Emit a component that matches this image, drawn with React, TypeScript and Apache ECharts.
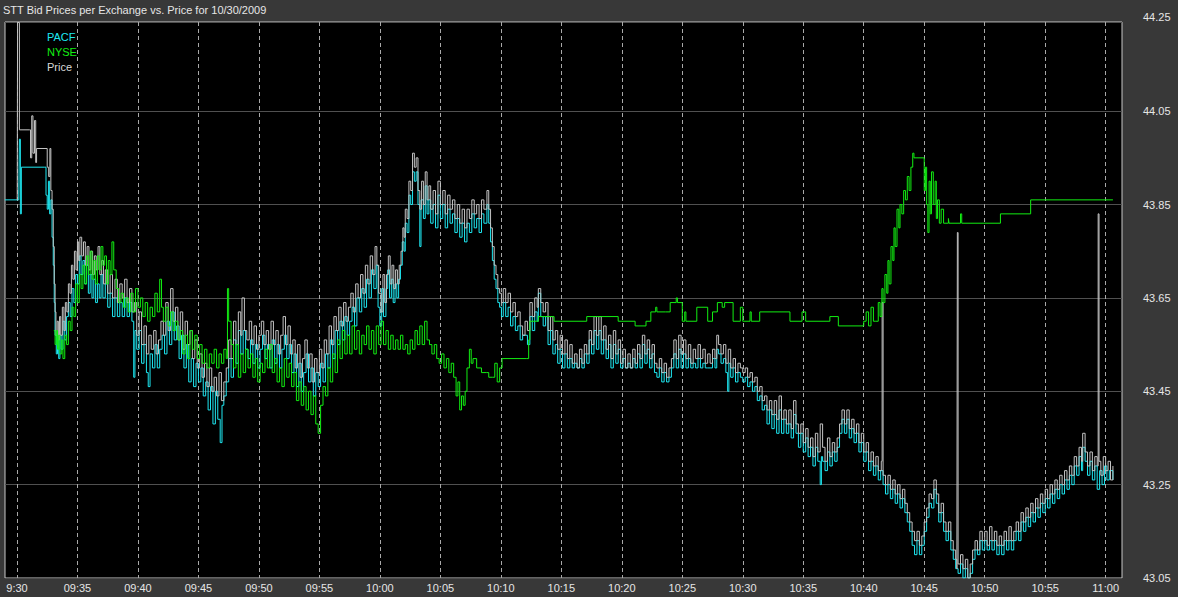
import React, { useEffect, useRef } from "react";
import * as echarts from "echarts";

// minutes after 09:30, bid / trade price
const PACF: [number, number][] = [
[-1.0,43.86],[0.15,43.86],[0.2,43.99],[0.28,43.83],[0.36,43.93],[2.3,43.93],[2.4,43.87],[2.5,43.84],[2.6,43.9],[2.7,43.83],[2.8,43.86],[2.9,43.78],[3.0,43.72],[3.08,43.64],[3.15,43.57],[3.25,43.53],[3.35,43.56],[3.45,43.52],[3.55,43.57],[3.65,43.54],[3.8,43.6],[3.95,43.56],[4.1,43.61],[4.25,43.64],[4.4,43.61],[4.55,43.67],[4.7,43.64],[4.85,43.7],[5.0,43.68],[5.15,43.74],[5.3,43.7],[5.45,43.73],[5.6,43.68],[5.75,43.72],[5.9,43.66],[6.05,43.7],[6.2,43.65],[6.35,43.69],[6.5,43.64],[6.65,43.68],[6.8,43.65],[6.95,43.7],[7.1,43.65],[7.3,43.68],[7.5,43.63],[7.7,43.66],[7.9,43.61],[8.1,43.65],[8.3,43.61],[8.5,43.64],[8.7,43.61],[8.9,43.65],[9.1,43.61],[9.3,43.64],[9.5,43.6],[9.65,43.48],[9.75,43.58],[9.9,43.54],[10.1,43.58],[10.3,43.51],[10.5,43.55],[10.7,43.49],[10.85,43.46],[11.0,43.53],[11.2,43.5],[11.4,43.55],[11.6,43.5],[11.8,43.54],[12.0,43.57],[12.2,43.53],[12.4,43.6],[12.6,43.55],[12.8,43.62],[13.0,43.56],[13.2,43.59],[13.4,43.52],[13.6,43.57],[13.8,43.5],[14.0,43.55],[14.2,43.47],[14.4,43.52],[14.6,43.46],[14.8,43.51],[15.0,43.47],[15.2,43.5],[15.4,43.44],[15.6,43.47],[15.8,43.41],[16.0,43.46],[16.2,43.38],[16.4,43.45],[16.6,43.39],[16.8,43.34],[16.95,43.42],[17.1,43.44],[17.3,43.47],[17.5,43.52],[17.7,43.48],[17.9,43.56],[18.1,43.51],[18.3,43.58],[18.5,43.53],[18.7,43.58],[18.9,43.54],[19.1,43.52],[19.3,43.56],[19.5,43.51],[19.7,43.55],[19.9,43.5],[20.1,43.54],[20.3,43.57],[20.5,43.52],[20.7,43.55],[20.9,43.5],[21.1,43.56],[21.3,43.51],[21.5,43.55],[21.7,43.5],[21.9,43.54],[22.1,43.57],[22.3,43.52],[22.5,43.55],[22.7,43.49],[22.9,43.53],[23.1,43.46],[23.3,43.51],[23.5,43.45],[23.7,43.49],[23.9,43.53],[24.1,43.47],[24.3,43.5],[24.5,43.44],[24.7,43.49],[24.9,43.46],[25.1,43.51],[25.3,43.47],[25.5,43.53],[25.7,43.5],[25.9,43.56],[26.1,43.52],[26.3,43.58],[26.5,43.55],[26.7,43.6],[26.9,43.56],[27.1,43.61],[27.3,43.57],[27.5,43.6],[27.7,43.63],[27.9,43.59],[28.1,43.65],[28.3,43.62],[28.5,43.67],[28.7,43.63],[28.9,43.69],[29.1,43.65],[29.3,43.71],[29.5,43.67],[29.7,43.72],[29.85,43.63],[30.0,43.59],[30.15,43.67],[30.3,43.61],[30.5,43.67],[30.65,43.71],[30.8,43.65],[30.95,43.69],[31.1,43.64],[31.25,43.68],[31.4,43.65],[31.55,43.69],[31.7,43.72],[31.85,43.77],[32.0,43.75],[32.1,43.81],[32.25,43.79],[32.4,43.87],[32.55,43.85],[32.7,43.92],[32.85,43.9],[33.0,43.92],[33.15,43.85],[33.3,43.76],[33.4,43.86],[33.6,43.82],[33.75,43.89],[33.9,43.83],[34.05,43.86],[34.2,43.81],[34.4,43.85],[34.6,43.8],[34.8,43.87],[35.0,43.82],[35.2,43.85],[35.4,43.8],[35.6,43.84],[35.8,43.81],[36.0,43.83],[36.2,43.79],[36.4,43.82],[36.6,43.78],[36.8,43.81],[37.0,43.77],[37.2,43.81],[37.4,43.79],[37.6,43.83],[37.8,43.8],[38.0,43.82],[38.2,43.79],[38.4,43.83],[38.6,43.81],[38.85,43.85],[39.0,43.81],[39.15,43.77],[39.3,43.73],[39.45,43.69],[39.6,43.67],[39.75,43.64],[39.9,43.63],[40.05,43.61],[40.2,43.64],[40.4,43.61],[40.6,43.63],[40.8,43.59],[41.0,43.61],[41.2,43.58],[41.4,43.59],[41.6,43.56],[41.8,43.57],[42.0,43.57],[42.2,43.55],[42.4,43.61],[42.6,43.58],[42.8,43.62],[43.0,43.6],[43.1,43.66],[43.3,43.61],[43.5,43.59],[43.7,43.61],[43.9,43.55],[44.1,43.58],[44.3,43.53],[44.5,43.55],[44.7,43.51],[44.9,43.54],[45.1,43.5],[45.3,43.53],[45.5,43.5],[45.7,43.52],[45.9,43.5],[46.1,43.51],[46.3,43.5],[46.5,43.52],[46.7,43.5],[46.9,43.53],[47.1,43.51],[47.3,43.56],[47.5,43.53],[47.7,43.58],[47.9,43.54],[48.1,43.58],[48.3,43.53],[48.5,43.56],[48.7,43.52],[48.9,43.55],[49.1,43.5],[49.3,43.55],[49.5,43.51],[49.7,43.54],[49.9,43.5],[50.1,43.52],[50.3,43.5],[50.5,43.51],[50.7,43.5],[50.9,43.52],[51.1,43.5],[51.3,43.53],[51.5,43.5],[51.7,43.55],[51.9,43.51],[52.1,43.54],[52.3,43.5],[52.5,43.53],[52.7,43.49],[52.9,43.48],[53.1,43.5],[53.3,43.47],[53.5,43.49],[53.7,43.47],[53.9,43.48],[54.1,43.5],[54.3,43.53],[54.5,43.5],[54.7,43.54],[54.9,43.5],[55.1,43.53],[55.3,43.5],[55.5,43.52],[55.7,43.5],[55.9,43.51],[56.1,43.5],[56.3,43.52],[56.5,43.5],[56.7,43.51],[56.9,43.5],[57.1,43.5],[57.3,43.5],[57.5,43.52],[57.7,43.5],[57.85,43.54],[58.0,43.53],[58.2,43.51],[58.4,43.52],[58.6,43.49],[58.75,43.45],[58.85,43.51],[59.0,43.48],[59.2,43.5],[59.4,43.47],[59.6,43.49],[59.8,43.48],[60.0,43.47],[60.2,43.48],[60.4,43.46],[60.6,43.47],[60.8,43.45],[61.0,43.46],[61.2,43.43],[61.4,43.44],[61.6,43.41],[61.8,43.42],[62.0,43.38],[62.2,43.41],[62.4,43.37],[62.6,43.4],[62.8,43.36],[63.0,43.41],[63.2,43.36],[63.4,43.39],[63.6,43.36],[63.8,43.38],[64.0,43.35],[64.2,43.4],[64.4,43.36],[64.6,43.33],[64.8,43.36],[65.0,43.32],[65.2,43.35],[65.4,43.31],[65.6,43.33],[65.8,43.29],[66.0,43.33],[66.2,43.3],[66.4,43.25],[66.5,43.31],[66.6,43.3],[66.8,43.28],[67.0,43.32],[67.2,43.29],[67.4,43.32],[67.6,43.3],[67.8,43.33],[68.0,43.36],[68.2,43.39],[68.4,43.36],[68.6,43.39],[68.8,43.35],[69.0,43.37],[69.2,43.34],[69.4,43.36],[69.6,43.32],[69.8,43.34],[70.0,43.3],[70.2,43.32],[70.4,43.28],[70.6,43.3],[70.8,43.27],[71.0,43.29],[71.2,43.26],[71.4,43.28],[71.6,43.25],[71.8,43.23],[72.0,43.25],[72.2,43.22],[72.4,43.24],[72.6,43.21],[72.8,43.23],[73.0,43.2],[73.2,43.22],[73.4,43.19],[73.6,43.17],[73.8,43.15],[74.0,43.12],[74.2,43.1],[74.4,43.13],[74.6,43.1],[74.8,43.12],[75.0,43.15],[75.2,43.18],[75.4,43.21],[75.6,43.2],[75.8,43.24],[76.0,43.21],[76.2,43.17],[76.4,43.19],[76.6,43.15],[76.8,43.13],[77.0,43.15],[77.2,43.11],[77.4,43.09],[77.6,43.07],[77.8,43.06],[78.0,43.08],[78.2,43.05],[78.4,43.07],[78.6,43.05],[78.8,43.06],[79.0,43.09],[79.2,43.11],[79.4,43.1],[79.6,43.13],[79.8,43.11],[80.0,43.13],[80.2,43.11],[80.4,43.13],[80.6,43.11],[80.8,43.13],[81.0,43.1],[81.2,43.12],[81.4,43.1],[81.6,43.13],[81.8,43.11],[82.0,43.13],[82.2,43.11],[82.4,43.13],[82.6,43.15],[82.8,43.13],[83.0,43.17],[83.2,43.15],[83.4,43.18],[83.6,43.16],[83.8,43.19],[84.0,43.17],[84.2,43.2],[84.4,43.18],[84.6,43.21],[84.8,43.19],[85.0,43.22],[85.2,43.2],[85.4,43.23],[85.6,43.21],[85.8,43.24],[86.0,43.22],[86.2,43.25],[86.4,43.23],[86.6,43.26],[86.8,43.24],[87.0,43.27],[87.2,43.25],[87.4,43.29],[87.6,43.27],[87.8,43.31],[88.0,43.28],[88.1,43.33],[88.3,43.3],[88.5,43.27],[88.7,43.3],[88.9,43.26],[89.1,43.29],[89.3,43.24],[89.5,43.28],[89.7,43.25],[89.9,43.29],[90.1,43.26],[90.3,43.28],[90.6,43.26]
];

const NYSE: [number, number][] = [
[3.05,43.58],[3.15,43.55],[3.25,43.58],[3.35,43.54],[3.45,43.57],[3.55,43.53],[3.7,43.56],[3.8,43.52],[3.95,43.57],[4.1,43.55],[4.25,43.6],[4.4,43.58],[4.55,43.63],[4.7,43.61],[4.85,43.68],[5.0,43.64],[5.15,43.7],[5.3,43.67],[5.45,43.72],[5.6,43.68],[5.75,43.74],[5.9,43.7],[6.05,43.75],[6.2,43.69],[6.35,43.73],[6.5,43.68],[6.65,43.74],[6.8,43.71],[6.95,43.76],[7.1,43.72],[7.25,43.74],[7.4,43.68],[7.55,43.73],[7.7,43.7],[7.85,43.77],[8.0,43.71],[8.2,43.67],[8.4,43.64],[8.6,43.66],[8.8,43.63],[9.0,43.65],[9.2,43.62],[9.4,43.66],[9.6,43.62],[9.8,43.67],[10.0,43.63],[10.2,43.65],[10.4,43.61],[10.6,43.64],[10.8,43.6],[11.0,43.63],[11.2,43.61],[11.4,43.66],[11.6,43.62],[11.8,43.69],[11.95,43.63],[12.1,43.6],[12.3,43.63],[12.5,43.59],[12.7,43.62],[12.9,43.58],[13.1,43.6],[13.3,43.56],[13.5,43.58],[13.7,43.53],[13.9,43.57],[14.1,43.52],[14.3,43.58],[14.5,43.54],[14.7,43.57],[14.9,43.52],[15.1,43.55],[15.3,43.51],[15.5,43.54],[15.7,43.5],[15.9,43.53],[16.1,43.51],[16.3,43.54],[16.5,43.5],[16.7,43.53],[16.9,43.51],[17.1,43.54],[17.3,43.52],[17.4,43.67],[17.5,43.6],[17.7,43.55],[17.9,43.5],[18.1,43.55],[18.3,43.48],[18.5,43.53],[18.7,43.49],[18.9,43.54],[19.1,43.5],[19.3,43.53],[19.5,43.48],[19.7,43.52],[19.9,43.47],[20.1,43.51],[20.3,43.49],[20.5,43.54],[20.7,43.5],[20.9,43.55],[21.1,43.49],[21.3,43.52],[21.5,43.47],[21.7,43.5],[21.9,43.46],[22.1,43.52],[22.3,43.48],[22.5,43.51],[22.7,43.46],[22.9,43.49],[23.1,43.43],[23.3,43.47],[23.5,43.42],[23.7,43.46],[23.9,43.41],[24.1,43.45],[24.3,43.4],[24.5,43.44],[24.7,43.38],[24.9,43.36],[25.1,43.42],[25.3,43.46],[25.5,43.44],[25.7,43.5],[25.9,43.47],[26.1,43.53],[26.3,43.49],[26.5,43.56],[26.7,43.52],[26.9,43.58],[27.1,43.53],[27.3,43.57],[27.5,43.53],[27.7,43.59],[27.9,43.54],[28.1,43.58],[28.3,43.53],[28.5,43.57],[28.7,43.55],[28.9,43.59],[29.1,43.54],[29.3,43.58],[29.5,43.53],[29.7,43.59],[29.9,43.55],[30.1,43.6],[30.3,43.55],[30.5,43.58],[30.7,43.54],[30.9,43.57],[31.1,43.54],[31.3,43.56],[31.5,43.54],[31.7,43.57],[31.9,43.54],[32.1,43.55],[32.3,43.53],[32.5,43.56],[32.7,43.54],[32.9,43.58],[33.1,43.55],[33.3,43.59],[33.5,43.55],[33.7,43.6],[33.9,43.56],[34.1,43.55],[34.3,43.53],[34.5,43.55],[34.7,43.52],[34.9,43.51],[35.1,43.53],[35.3,43.5],[35.5,43.52],[35.7,43.49],[35.9,43.51],[36.1,43.48],[36.3,43.44],[36.45,43.47],[36.6,43.41],[36.75,43.44],[36.9,43.42],[37.05,43.45],[37.2,43.5],[37.4,43.54],[37.55,43.51],[37.7,43.52],[38.0,43.5],[38.4,43.49],[38.8,43.49],[39.0,43.48],[39.3,43.48],[39.5,43.51],[39.7,43.47],[39.9,43.5],[40.1,43.52],[42.1,43.52],[42.3,43.56],[42.4,43.6],[43.1,43.61],[44.4,43.6],[47.1,43.61],[49.7,43.6],[51.1,43.59],[52.0,43.6],[52.4,43.62],[52.8,43.63],[52.9,43.62],[53.6,43.62],[54.0,43.64],[54.5,43.65],[54.6,43.64],[55.0,43.6],[55.2,43.62],[55.3,43.6],[56.2,43.63],[57.1,43.6],[57.5,43.62],[57.9,43.64],[58.3,43.63],[58.5,43.64],[59.2,43.6],[59.8,43.63],[60.0,43.6],[60.6,43.62],[60.7,43.6],[61.4,43.62],[63.9,43.6],[64.9,43.62],[65.2,43.6],[67.2,43.61],[67.9,43.59],[70.0,43.6],[70.2,43.62],[70.4,43.59],[70.6,43.63],[70.8,43.6],[71.0,43.6],[71.2,43.64],[71.35,43.61],[71.5,43.67],[71.6,43.64],[71.75,43.7],[71.9,43.66],[72.0,43.73],[72.1,43.68],[72.25,43.76],[72.4,43.73],[72.5,43.8],[72.6,43.76],[72.75,43.84],[72.9,43.8],[73.0,43.85],[73.15,43.83],[73.3,43.88],[73.45,43.86],[73.6,43.91],[73.75,43.88],[73.9,43.93],[74.05,43.96],[74.15,43.95],[74.9,43.95],[75.0,43.88],[75.1,43.93],[75.2,43.85],[75.3,43.79],[75.4,43.9],[75.5,43.83],[75.6,43.92],[75.75,43.85],[75.9,43.9],[76.0,43.82],[76.1,43.86],[76.25,43.81],[76.4,43.84],[76.6,43.81],[77.0,43.82],[77.05,43.81],[78.0,43.83],[78.1,43.81],[81.3,43.83],[83.8,43.86],[90.6,43.86]
];

const PRICE: [number, number][] = [
[0.02,43.86],[0.05,44.24],[0.2,44.01],[1.05,44.01],[1.12,43.95],[1.22,44.04],[1.32,43.96],[1.45,44.03],[1.55,43.94],[1.62,43.97],[2.4,43.97],[2.5,43.93],[2.62,43.91],[2.72,43.97],[2.8,43.88],[2.9,43.84],[3.0,43.76],[3.08,43.68],[3.15,43.62],[3.22,43.57],[3.32,43.6],[3.42,43.56],[3.52,43.61],[3.62,43.57],[3.75,43.63],[3.88,43.58],[4.0,43.64],[4.12,43.62],[4.25,43.68],[4.38,43.66],[4.5,43.72],[4.62,43.69],[4.75,43.75],[4.88,43.71],[5.0,43.77],[5.1,43.73],[5.2,43.78],[5.35,43.74],[5.5,43.77],[5.65,43.72],[5.8,43.76],[5.95,43.71],[6.1,43.75],[6.25,43.7],[6.4,43.74],[6.55,43.71],[6.7,43.76],[6.85,43.7],[7.0,43.73],[7.15,43.68],[7.3,43.71],[7.5,43.66],[7.7,43.7],[7.9,43.65],[8.1,43.69],[8.3,43.64],[8.5,43.68],[8.7,43.65],[8.9,43.69],[9.1,43.64],[9.3,43.67],[9.5,43.62],[9.7,43.64],[9.9,43.57],[10.1,43.62],[10.3,43.55],[10.5,43.59],[10.7,43.53],[10.9,43.57],[11.1,43.54],[11.3,43.58],[11.5,43.53],[11.7,43.56],[11.9,43.6],[12.1,43.57],[12.3,43.64],[12.5,43.58],[12.7,43.67],[12.9,43.6],[13.1,43.63],[13.3,43.56],[13.5,43.62],[13.7,43.54],[13.9,43.6],[14.1,43.55],[14.3,43.58],[14.5,43.52],[14.7,43.56],[14.9,43.5],[15.1,43.53],[15.3,43.48],[15.5,43.51],[15.7,43.46],[15.9,43.5],[16.1,43.45],[16.3,43.48],[16.5,43.44],[16.7,43.49],[16.9,43.43],[17.1,43.47],[17.3,43.5],[17.5,43.56],[17.7,43.52],[17.9,43.6],[18.1,43.55],[18.3,43.62],[18.5,43.57],[18.6,43.65],[18.8,43.58],[19.0,43.56],[19.2,43.6],[19.4,43.55],[19.6,43.59],[19.8,43.54],[20.0,43.57],[20.2,43.6],[20.4,43.55],[20.6,43.58],[20.8,43.54],[21.0,43.6],[21.2,43.55],[21.4,43.58],[21.6,43.53],[21.8,43.57],[22.0,43.61],[22.2,43.55],[22.4,43.59],[22.6,43.53],[22.8,43.56],[23.0,43.5],[23.2,43.55],[23.4,43.48],[23.6,43.52],[23.8,43.56],[24.0,43.5],[24.2,43.53],[24.4,43.47],[24.6,43.52],[24.8,43.49],[25.0,43.54],[25.2,43.5],[25.4,43.56],[25.6,43.53],[25.8,43.59],[26.0,43.55],[26.2,43.61],[26.4,43.58],[26.6,43.63],[26.8,43.59],[27.0,43.64],[27.2,43.6],[27.4,43.63],[27.6,43.66],[27.8,43.62],[28.0,43.68],[28.2,43.65],[28.4,43.7],[28.6,43.66],[28.8,43.72],[29.0,43.68],[29.2,43.74],[29.4,43.7],[29.6,43.76],[29.75,43.72],[29.9,43.66],[30.1,43.62],[30.25,43.7],[30.4,43.64],[30.55,43.7],[30.7,43.74],[30.85,43.68],[31.0,43.72],[31.15,43.67],[31.3,43.71],[31.45,43.68],[31.6,43.72],[31.75,43.75],[31.9,43.8],[32.0,43.78],[32.1,43.84],[32.25,43.82],[32.4,43.9],[32.55,43.88],[32.7,43.96],[32.85,43.93],[33.0,43.95],[33.15,43.88],[33.3,43.84],[33.45,43.9],[33.6,43.85],[33.75,43.92],[33.9,43.86],[34.05,43.89],[34.2,43.84],[34.4,43.88],[34.6,43.83],[34.8,43.9],[35.0,43.85],[35.2,43.88],[35.4,43.83],[35.6,43.87],[35.8,43.84],[36.0,43.86],[36.2,43.82],[36.4,43.85],[36.6,43.81],[36.8,43.84],[37.0,43.8],[37.2,43.84],[37.4,43.82],[37.6,43.86],[37.8,43.83],[38.0,43.85],[38.2,43.82],[38.4,43.86],[38.6,43.84],[38.85,43.88],[39.0,43.84],[39.15,43.8],[39.3,43.76],[39.45,43.72],[39.6,43.7],[39.75,43.67],[39.9,43.66],[40.05,43.64],[40.2,43.67],[40.4,43.64],[40.6,43.66],[40.8,43.62],[41.0,43.64],[41.2,43.61],[41.4,43.62],[41.6,43.59],[41.8,43.57],[42.0,43.6],[42.2,43.58],[42.4,43.64],[42.6,43.61],[42.8,43.65],[43.0,43.63],[43.1,43.67],[43.3,43.64],[43.5,43.62],[43.7,43.64],[43.9,43.58],[44.1,43.61],[44.3,43.56],[44.5,43.58],[44.7,43.54],[44.9,43.57],[45.1,43.53],[45.3,43.56],[45.5,43.52],[45.7,43.55],[45.9,43.51],[46.1,43.53],[46.3,43.5],[46.5,43.54],[46.7,43.51],[46.9,43.55],[47.1,43.53],[47.3,43.58],[47.5,43.55],[47.7,43.61],[47.9,43.57],[48.1,43.61],[48.3,43.56],[48.5,43.59],[48.7,43.54],[48.9,43.57],[49.1,43.52],[49.3,43.58],[49.5,43.53],[49.7,43.56],[49.9,43.51],[50.1,43.54],[50.3,43.5],[50.5,43.53],[50.7,43.5],[50.9,43.54],[51.1,43.51],[51.3,43.55],[51.5,43.52],[51.7,43.57],[51.9,43.53],[52.1,43.56],[52.3,43.52],[52.5,43.55],[52.7,43.51],[52.9,43.5],[53.1,43.52],[53.3,43.49],[53.5,43.51],[53.7,43.48],[53.9,43.5],[54.1,43.52],[54.3,43.56],[54.5,43.52],[54.7,43.57],[54.9,43.53],[55.1,43.56],[55.3,43.52],[55.5,43.55],[55.7,43.51],[55.9,43.54],[56.1,43.52],[56.3,43.55],[56.5,43.52],[56.7,43.54],[56.9,43.51],[57.1,43.53],[57.3,43.51],[57.5,43.54],[57.7,43.52],[57.85,43.57],[58.0,43.55],[58.2,43.53],[58.4,43.55],[58.6,43.51],[58.8,43.54],[59.0,43.5],[59.2,43.52],[59.4,43.49],[59.6,43.51],[59.8,43.5],[60.0,43.49],[60.2,43.5],[60.4,43.48],[60.6,43.49],[60.8,43.47],[61.0,43.48],[61.2,43.45],[61.4,43.46],[61.6,43.43],[61.8,43.44],[62.0,43.41],[62.2,43.43],[62.4,43.4],[62.6,43.43],[62.8,43.39],[63.0,43.44],[63.2,43.39],[63.4,43.41],[63.6,43.38],[63.8,43.41],[64.0,43.37],[64.2,43.43],[64.4,43.38],[64.6,43.36],[64.8,43.38],[65.0,43.34],[65.2,43.37],[65.4,43.33],[65.6,43.35],[65.8,43.31],[66.0,43.36],[66.2,43.32],[66.4,43.38],[66.6,43.33],[66.8,43.3],[67.0,43.35],[67.2,43.31],[67.4,43.34],[67.6,43.32],[67.8,43.35],[68.0,43.38],[68.2,43.41],[68.4,43.38],[68.6,43.41],[68.8,43.37],[69.0,43.39],[69.2,43.36],[69.4,43.38],[69.6,43.34],[69.8,43.36],[70.0,43.32],[70.2,43.34],[70.4,43.3],[70.6,43.32],[70.8,43.29],[71.0,43.31],[71.2,43.28],[71.45,43.3],[71.52,43.64],[71.6,43.27],[71.8,43.25],[72.0,43.27],[72.2,43.24],[72.4,43.26],[72.6,43.23],[72.8,43.25],[73.0,43.22],[73.2,43.24],[73.4,43.21],[73.6,43.19],[73.8,43.17],[74.0,43.15],[74.2,43.13],[74.4,43.15],[74.6,43.12],[74.8,43.14],[75.0,43.17],[75.2,43.2],[75.4,43.23],[75.6,43.22],[75.8,43.26],[76.0,43.23],[76.2,43.19],[76.4,43.21],[76.6,43.17],[76.8,43.15],[77.0,43.17],[77.2,43.13],[77.4,43.11],[77.6,43.09],[77.7,43.07],[77.74,43.79],[77.8,43.08],[78.0,43.1],[78.2,43.07],[78.4,43.09],[78.6,43.05],[78.8,43.08],[79.0,43.11],[79.2,43.13],[79.4,43.11],[79.6,43.15],[79.8,43.13],[80.0,43.15],[80.2,43.12],[80.4,43.16],[80.6,43.13],[80.8,43.15],[81.0,43.12],[81.2,43.14],[81.4,43.12],[81.6,43.15],[81.8,43.13],[82.0,43.16],[82.2,43.13],[82.4,43.15],[82.6,43.17],[82.8,43.15],[83.0,43.19],[83.2,43.17],[83.4,43.2],[83.6,43.18],[83.8,43.21],[84.0,43.19],[84.2,43.22],[84.4,43.2],[84.6,43.23],[84.8,43.21],[85.0,43.24],[85.2,43.22],[85.4,43.25],[85.6,43.23],[85.8,43.26],[86.0,43.24],[86.2,43.27],[86.4,43.25],[86.6,43.28],[86.8,43.26],[87.0,43.29],[87.2,43.27],[87.4,43.31],[87.6,43.29],[87.8,43.33],[88.0,43.3],[88.1,43.36],[88.3,43.32],[88.5,43.29],[88.7,43.32],[88.9,43.28],[89.1,43.31],[89.3,43.29],[89.38,43.83],[89.45,43.3],[89.6,43.27],[89.8,43.31],[90.0,43.28],[90.2,43.3],[90.4,43.26],[90.6,43.29]
];

const X_TICKS = [0, 5, 10, 15, 20, 25, 30, 35, 40, 45, 50, 55, 60, 65, 70, 75, 80, 85, 90];
const Y_MIN = 43.05;
const Y_MAX = 44.241;
const Y_STEP = 0.2;
const TOP_LABEL = "44.25";

const FONT = "'Liberation Sans', Arial, sans-serif";
const TEXT = "#e6e6e6";
const C_PACF = "#1ee8f2";
const C_NYSE = "#12ee12";
const C_PRICE = "#c4c4c4";

function fmtTime(v: number): string {
  const t = 570 + Math.round(v);
  const h = Math.floor(t / 60);
  const m = t % 60;
  if (v === 0) return `${h}:${String(m).padStart(2, "0")}`;
  return `${String(h).padStart(2, "0")}:${String(m).padStart(2, "0")}`;
}

export default function App() {
  const ref = useRef<HTMLDivElement>(null);
  useEffect(() => {
    const chart = echarts.init(ref.current!, null, { renderer: "svg" });
    const line = (name: string, data: [number, number][], color: string, z: number) => ({
      name,
      type: "line",
      data,
      step: "end",
      showSymbol: false,
      symbol: "none",
      clip: true,
      z,
      lineStyle: { width: 1, color },
      itemStyle: { color },
      emphasis: { disabled: true },
    });
    chart.setOption({
      animation: false,
      backgroundColor: "#383838",
      textStyle: { fontFamily: FONT },
      title: {
        text: "STT Bid Prices per Exchange vs. Price for 10/30/2009",
        left: 3,
        top: 4,
        padding: 0,
        textStyle: { color: TEXT, fontSize: 11, fontWeight: "normal", fontFamily: FONT },
      },
      legend: {
        orient: "vertical",
        left: 42,
        top: 31,
        padding: 0,
        itemWidth: 0,
        itemHeight: 10,
        itemGap: 4,
        icon: "rect",
        selectedMode: false,
        itemStyle: { opacity: 0 },
        lineStyle: { opacity: 0 },
        textStyle: { fontSize: 11, fontFamily: FONT },
        data: [
          { name: "PACF", textStyle: { color: C_PACF } },
          { name: "NYSE", textStyle: { color: C_NYSE } },
          { name: "Price", textStyle: { color: "#d8d8d8" } },
        ],
      },
      grid: {
        left: 5,
        right: 56,
        top: 22,
        bottom: 19,
        show: true,
        backgroundColor: "#000000",
        borderColor: "#c8c8c8",
        borderWidth: 1,
      },
      xAxis: {
        type: "value",
        min: -0.99,
        max: 91.35,
        axisLine: { show: false },
        axisTick: { show: false, customValues: X_TICKS },
        axisLabel: {
          customValues: X_TICKS,
          formatter: (v: number) => fmtTime(v),
          color: TEXT,
          fontSize: 11,
          fontFamily: FONT,
          margin: 4,
        },
        splitLine: { show: true, lineStyle: { color: "#a8a8a8", type: [4, 3], width: 1 } },
      },
      yAxis: {
        type: "value",
        position: "right",
        min: Y_MIN,
        max: Y_MAX,
        interval: Y_STEP,
        axisLine: { show: false },
        axisTick: { show: false },
        axisLabel: {
          margin: 21,
          color: TEXT,
          fontSize: 11,
          fontFamily: FONT,
          formatter: (v: number) => (v > Y_MAX - 0.01 ? `{t|${TOP_LABEL}}` : v.toFixed(2)),
          rich: { t: { color: TEXT, fontSize: 11, fontFamily: FONT, padding: [0, 0, 10, 0] } },
        },
        splitLine: { show: true, lineStyle: { color: "#505050", width: 1 } },
      },
      series: [
        line("PACF", PACF, C_PACF, 2),
        line("Price", PRICE, C_PRICE, 3),
        line("NYSE", NYSE, C_NYSE, 4),
      ],
    });
    return () => chart.dispose();
  }, []);
  return (
    <div
      ref={ref}
      style={{ position: "fixed", left: 0, top: 0, width: 1178, height: 597 }}
    />
  );
}
